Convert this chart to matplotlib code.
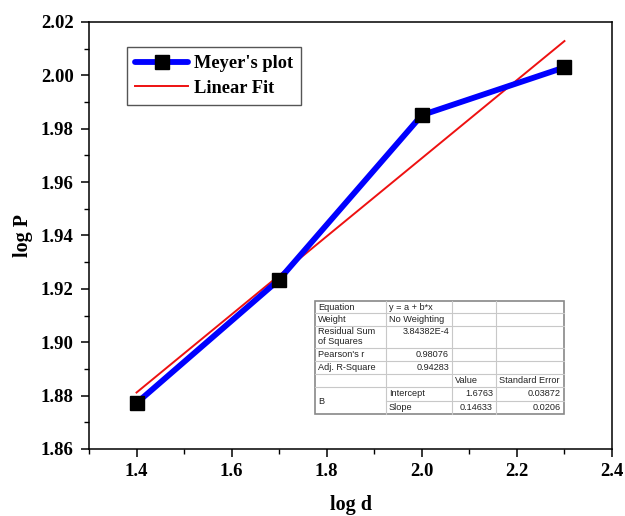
import matplotlib
matplotlib.use("Agg")
import matplotlib.pyplot as plt
from matplotlib.lines import Line2D
from matplotlib.patches import Rectangle
import numpy as np

log_d = [1.4, 1.7, 2.0, 2.3]
log_P = [1.8772, 1.9235, 1.9851, 2.0030]
intercept = 1.6763
slope = 0.14633
fit_x = [1.4, 2.3]

W, H = 625, 516
fig = plt.figure(figsize=(6.25, 5.16), dpi=100)
ax = fig.add_axes([89/W, 1-449/H, (612-89)/W, (449-22)/H])

serif = "Liberation Serif"
ax.plot(log_d, log_P, color="#0000ff", lw=4.2, marker="s", ms=9.5,
        mfc="black", mec="black", solid_capstyle="round", label="Meyer's plot", zorder=3)
fx = np.array(fit_x)
ax.plot(fx, intercept + slope*fx, color="#ee1111", lw=1.4, label="Linear Fit", zorder=2)

ax.set_xlim(1.3, 2.4)
ax.set_ylim(1.86, 2.02)
ax.set_xticks(np.arange(1.4, 2.41, 0.2))
ax.set_xticks(np.arange(1.3, 2.41, 0.1), minor=True)
ax.set_yticks(np.arange(1.86, 2.021, 0.02))
ax.set_yticks(np.arange(1.86, 2.021, 0.01), minor=True)
ax.set_xticklabels([f"{v:.1f}" for v in np.arange(1.4, 2.41, 0.2)])
ax.set_yticklabels([f"{v:.2f}" for v in np.arange(1.86, 2.021, 0.02)])
ax.tick_params(which="major", direction="out", length=6, width=1.1, labelsize=13.5, pad=4)
ax.tick_params(axis="y", which="major", pad=5)
ax.tick_params(which="minor", direction="out", length=3.5, width=1.0)
for lab in ax.get_xticklabels() + ax.get_yticklabels():
    lab.set_fontfamily(serif)
    lab.set_fontweight("bold")
for s in ax.spines.values():
    s.set_linewidth(1.1)
ax.set_xlabel("log d", fontfamily=serif, fontweight="bold", fontsize=14.5, labelpad=11)
ax.set_ylabel("log P", fontfamily=serif, fontweight="bold", fontsize=14.5, labelpad=6)

leg = ax.legend(loc="upper left", bbox_to_anchor=((127-89)/(612-89), 1-(47-22)/(449-22)),
                prop={"family": serif, "weight": "bold", "size": 13.2},
                fancybox=False, edgecolor="#555555", framealpha=1, handlelength=2.9,
                handletextpad=0.3, borderpad=0.45, labelspacing=0.4, borderaxespad=0)
leg.get_frame().set_linewidth(1.0)

# fit result table (figure pixel coordinates)
def fx_(px): return px/W
def fy_(py): return 1-py/H
cols = [315, 386, 452, 496, 564]
rows = [301, 313, 326, 348, 361, 374, 387, 401, 414]
fig.patches.append(Rectangle((fx_(315), fy_(414)), fx_(564)-fx_(315), fy_(301)-fy_(414),
                             transform=fig.transFigure, fc="white", ec="#888888", lw=1.2, zorder=5))
lc = "#c8c8c8"
for c in cols[1:-1]:
    fig.add_artist(Line2D([fx_(c)]*2, [fy_(301), fy_(414)], color=lc, lw=0.8, zorder=6))
for r in rows[1:-1]:
    x0 = 386 if r == 401 else 315
    fig.add_artist(Line2D([fx_(x0), fx_(564)], [fy_(r)]*2, color=lc, lw=0.8, zorder=6))

tf = dict(fontfamily="Liberation Sans", fontsize=6.6, color="#222222", zorder=7)
def t(px, py, s, ha="left"):
    fig.text(fx_(px), fy_(py), s, ha=ha, va="center", **tf)

t(318, 307, "Equation"); t(389, 307, "y = a + b*x")
t(318, 319.5, "Weight"); t(389, 319.5, "No Weighting")
t(318, 332, "Residual Sum"); t(318, 342, "of Squares"); t(449, 332, "3.84382E-4", ha="right")
t(318, 354.5, "Pearson's r"); t(449, 354.5, "0.98076", ha="right")
t(318, 367.5, "Adj. R-Square"); t(449, 367.5, "0.94283", ha="right")
t(455, 380.5, "Value"); t(499, 380.5, "Standard Error")
t(318, 401, "B")
t(389, 394, "Intercept"); t(493, 394, f"{intercept}", ha="right"); t(561, 394, "0.03872", ha="right")
t(389, 407.5, "Slope"); t(493, 407.5, f"{slope}", ha="right"); t(561, 407.5, "0.0206", ha="right")

fig.savefig("out.png", dpi=100)
